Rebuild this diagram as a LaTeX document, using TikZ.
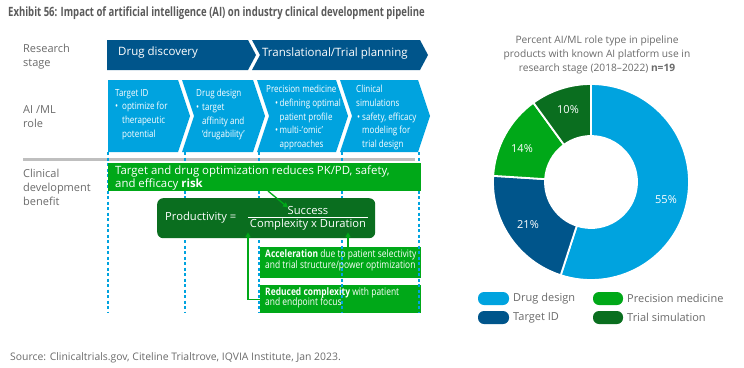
\documentclass[tikz,border=0pt]{standalone}
\usepackage{fontspec}
\setmainfont{Open Sans}
\newfontfamily\cond[FakeStretch=0.82]{Open Sans}
\newfontfamily\titlef[FakeStretch=0.745]{Open Sans}
\usetikzlibrary{arrows.meta}
\definecolor{dblue}{HTML}{00558B}
\definecolor{lblue}{HTML}{00A3DF}
\definecolor{grn}{HTML}{00A818}
\definecolor{dgrn}{HTML}{0A6E1F}
\definecolor{gtxt}{HTML}{6B6B6B}
\definecolor{ttxt}{HTML}{5A5A5A}
\definecolor{gline}{HTML}{BFBFBF}
\begin{document}
\begin{tikzpicture}[x=1pt,y=-1pt,
  lbl/.style={anchor=north west,inner sep=0,align=left,text=gtxt,font=\fontsize{11}{14}\selectfont},
  chevtxt/.style={anchor=north west,inner sep=0,align=left,text=white,font=\cond\fontsize{9.8}{13.7}\selectfont},
  bantxt/.style={anchor=west,inner sep=0,text=white,font=\fontsize{11.5}{14}\selectfont},
  gbox/.style={fill=grn,draw=none,inner sep=0,anchor=north west},
  gtxtnode/.style={anchor=west,inner sep=0,align=left,text=white,font=\cond\fontsize{10.3}{10.5}\selectfont},
  vdash/.style={draw=lblue,line width=1.2pt,dash pattern=on 3pt off 2.5pt},
  garrow/.style={draw=grn,line width=1.3pt,-{Triangle[length=5pt,width=5pt]}},
  legtxt/.style={anchor=west,inner sep=0,text=gtxt,font=\fontsize{11}{13}\selectfont},
  pill/.style={rounded corners=6pt,draw=none},
  pct/.style={text=white,inner sep=0,font=\fontsize{11}{13}\selectfont}
]
\useasboundingbox[fill=white] (0,0) rectangle (744,367);

% title
\node[anchor=west,inner sep=0,text=ttxt,font=\titlef\bfseries\fontsize{12.8}{14}\selectfont] (title) at (8,13)
  {Exhibit 56: Impact of artificial intelligence (AI) on industry clinical development pipeline};

% left labels
\node[lbl] (rs) at (23,43.5) {Research\\stage};
\node[lbl] (ai) at (23,105.5) {AI /ML\\role};
\node[lbl] (cd) at (23,168.5) {Clinical\\development\\benefit};

% banners
\fill[dblue] (107,40) -- (248,40) -- (256,55) -- (248,70) -- (107,70) -- cycle;
\fill[dblue] (252,40) -- (420,40) -- (428,55) -- (420,70) -- (252,70) -- (260,55) -- cycle;
\node[bantxt] (dd) at (118,53) {Drug discovery};
\node[bantxt] (tt) at (262,54) {Translational/Trial planning};

% chevrons
\fill[lblue] (108,80) -- (178,80) -- (190,116) -- (178,152) -- (108,152) -- cycle;
\fill[lblue] (182,80) -- (253,80) -- (265,116) -- (253,152) -- (182,152) -- (194,116) -- cycle;
\fill[lblue] (257,80) -- (336,80) -- (348,116) -- (336,152) -- (257,152) -- (269,116) -- cycle;
\fill[lblue] (340,80) -- (418,80) -- (430,116) -- (418,152) -- (340,152) -- (352,116) -- cycle;

\node[chevtxt] (c1) at (115,89) {Target ID\\\makebox[7pt][l]{\textbullet}optimize for\\\hspace*{7pt}therapeutic\\\hspace*{7pt}potential};
\node[chevtxt] (c2) at (196,89) {Drug design\\\makebox[6pt][l]{\textbullet}target\\\hspace*{6pt}affinity and\\\hspace*{6pt}‘drugability’};
\node[chevtxt] (c3) at (266,85) {Precision medicine\\\hspace*{9pt}\makebox[4.5pt][l]{\textbullet}defining optimal\\\hspace*{13.5pt}patient profile\\\hspace*{9pt}\makebox[4.5pt][l]{\textbullet}multi-\textquoteleft\kern0.4pt omic\textquoteright\\\hspace*{13.5pt}approaches};
\node[chevtxt] (c4) at (356,85) {Clinical\\simulations\\\hspace*{1pt}\makebox[5pt][l]{\textbullet}safety, efficacy\\\hspace*{6pt}modeling for\\\hspace*{6pt}trial design};

% gray rule
\draw[gline,line width=3pt] (23,159) -- (415,159);

% small green boxes
\node[gbox,minimum width=161pt,minimum height=31pt] (acc) at (260,247) {};
\node[gbox,minimum width=161pt,minimum height=28pt] (red) at (260,285) {};

% dashed verticals
\foreach \xx in {108,185,259,342,419} \draw[vdash] (\xx,152) -- (\xx,313);

% green bar
\node[gbox,minimum width=313pt,minimum height=28pt] (gbar) at (108,163) {};
\node[anchor=north west,inner sep=0,align=left,text=white,font=\fontsize{11.4}{11}\selectfont] (gbt) at (115,166)
  {Target and drug optimization reduces PK/PD, safety,\\and efficacy \textbf{risk}};

% productivity box
\node[fill=dgrn,rounded corners=6pt,minimum width=218pt,minimum height=40pt,anchor=north west,inner sep=0] (prod) at (157,198) {};
\node[anchor=west,inner sep=0,text=white,font=\fontsize{11.2}{12}\selectfont] (pl) at (165,218) {Productivity =};
\node[inner sep=0,text=white,font=\fontsize{11.2}{12}\selectfont] (succ) at (308,210) {Success};
\node[inner sep=1.5pt,text=white,font=\fontsize{11.2}{12}\selectfont] (cxd) at (308,225) {Complexity x Duration};
\draw[white,line width=0.6pt] (cxd.north west) -- (cxd.north east);

% green box texts
\node[gtxtnode] (acct) at (265,260.5) {\textbf{Acceleration} due to patient selectivity\\and trial structure/power optimization};
\node[gtxtnode] (redt) at (265,298) {\textbf{Reduced complexity} with patient\\and endpoint focus};

% arrows
\coordinate (a1s) at (268,191);
\coordinate (a1e) at (288,207.5);
\coordinate (a2x) at (348,0);
\coordinate (a3x) at (248,0);
\draw[garrow] (a1s) -- (a1e);
\draw[garrow] (acc.north -| a2x) -- (cxd.south -| a2x);
\draw[garrow] (red.west) -- (red.west -| a3x) -- (cxd.south -| a3x);

% pie title
\node[anchor=north,inner sep=0,align=center,text=gtxt,font=\fontsize{10.2}{14}\selectfont] (pt) at (597,36)
  {Percent AI/ML role type in pipeline\\products with known AI platform use in\\research stage (2018–2022) \textbf{n=19}};

% donut
\begin{scope}[xshift=591pt,yshift=-182pt,y=1pt]
  \def\Ro{98}\def\Ri{46}
  \foreach \s/\e/\c in {90/-108/lblue,-108/-183.6/dblue,-183.6/-234/grn,-234/-270/dgrn}{
    \filldraw[fill=\c,draw=white,line width=1.8pt,line join=round]
      (\s:\Ro) arc[start angle=\s,end angle=\e,radius=\Ro] -- (\e:\Ri)
      arc[start angle=\e,end angle=\s,radius=\Ri] -- cycle;
  }
\end{scope}
\node[pct] (p55) at (666,200) {55\%};
\node[pct] (p21) at (528,225) {21\%};
\node[pct] (p14) at (522,149) {14\%};
\node[pct] (p10) at (568,110) {10\%};

% legend
\fill[lblue,pill] (478,292) rectangle (509,305);
\fill[dblue,pill] (478,311) rectangle (509,324);
\fill[grn,pill] (593,292) rectangle (623,305);
\fill[dgrn,pill] (593,311) rectangle (623,324);
\node[legtxt] (l1) at (513,298.5) {Drug design};
\node[legtxt] (l2) at (513,317.5) {Target ID};
\node[legtxt] (l3) at (627,298.5) {Precision medicine};
\node[legtxt] (l4) at (627,317.5) {Trial simulation};

% source
\node[anchor=west,inner sep=0,text=gtxt,font=\fontsize{10.4}{12}\selectfont] (src) at (10,358)
  {Source: Clinicaltrials.gov, Citeline Trialtrove, IQVIA Institute, Jan 2023.};
\end{tikzpicture}
\end{document}
